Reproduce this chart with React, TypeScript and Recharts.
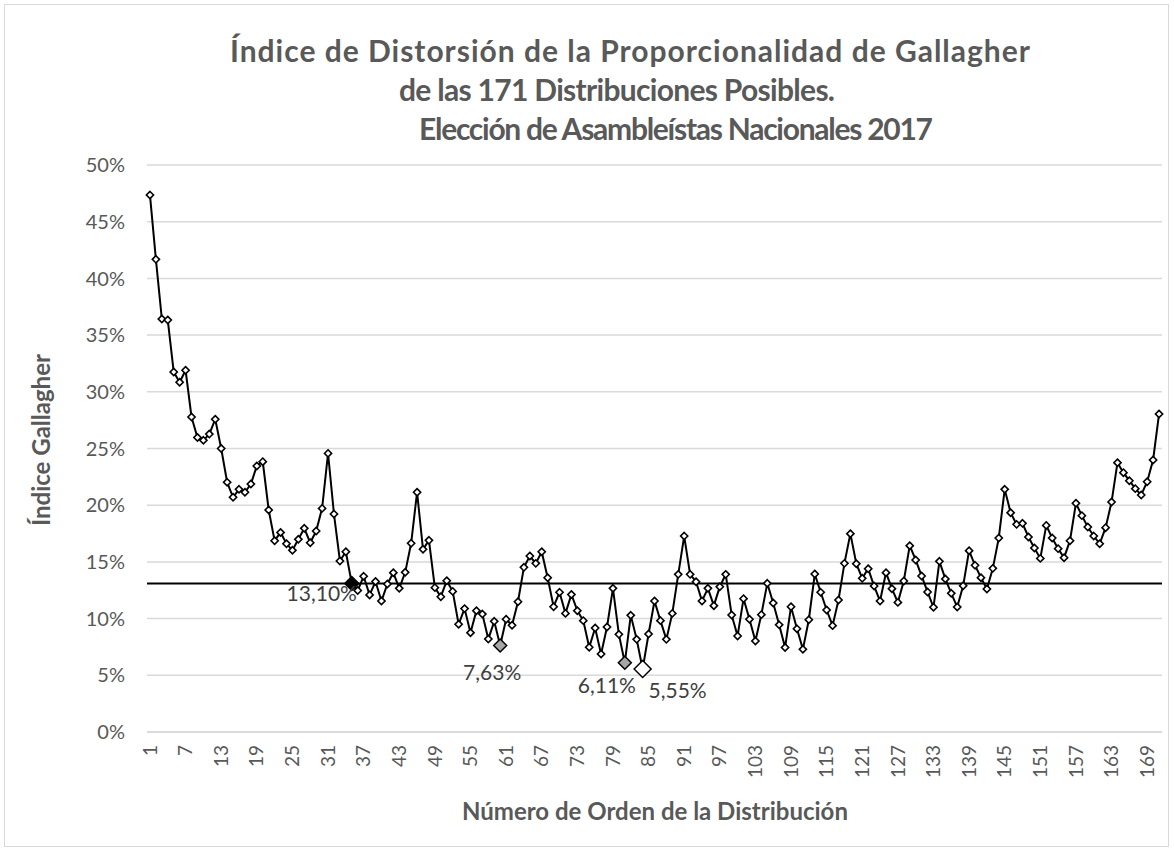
import { LineChart, Line, XAxis, YAxis, CartesianGrid, ReferenceLine } from 'recharts';

// Índice de Gallagher (%) para cada una de las 171 distribuciones
const gallagher: number[] = [
  47.35, 41.68, 36.42, 36.33, 31.75, 30.84, 31.9, 27.78, 25.97, 25.72,
  26.27, 27.58, 25.0, 22.02, 20.7, 21.4, 21.14, 21.87, 23.46, 23.84,
  19.58, 16.87, 17.6, 16.6, 16.02, 16.99, 17.96, 16.69, 17.72, 19.72,
  24.57, 19.22, 15.08, 15.9, 13.1, 12.48, 13.73, 12.09, 13.27, 11.55,
  13.05, 14.05, 12.67, 14.08, 16.64, 21.14, 16.11, 16.9, 12.73, 11.93,
  13.34, 12.4, 9.5, 10.88, 8.76, 10.7, 10.4, 8.2, 9.76, 7.63,
  9.94, 9.41, 11.49, 14.52, 15.52, 14.87, 15.9, 13.6, 11.05, 12.32,
  10.46, 12.13, 10.7, 9.82, 7.47, 9.17, 6.88, 9.26, 12.67, 8.61,
  6.11, 10.29, 8.17, 5.55, 8.64, 11.55, 9.82, 8.17, 10.46, 13.9,
  17.28, 13.9, 13.25, 11.55, 12.67, 11.14, 12.81, 13.9, 10.32, 8.47,
  11.76, 9.94, 8.02, 10.35, 13.11, 11.38, 9.45, 7.45, 11.05, 9.1,
  7.29, 9.9, 13.93, 12.32, 10.76, 9.38, 11.64, 14.87, 17.49, 14.84,
  13.55, 14.4, 12.87, 11.55, 14.05, 12.64, 11.43, 13.32, 16.43, 15.17,
  13.76, 12.35, 11.0, 15.05, 13.5, 12.23, 11.02, 12.9, 15.99, 14.7,
  13.61, 12.61, 14.43, 17.11, 21.4, 19.34, 18.31, 18.4, 17.2, 16.23,
  15.31, 18.22, 17.11, 16.17, 15.37, 16.87, 20.17, 19.08, 18.08, 17.28,
  16.6, 18.02, 20.28, 23.75, 22.87, 22.16, 21.46, 20.9, 22.07, 23.99,
  28.04,
];

const orden: number[] = gallagher.map((_, i) => i + 1);

const yTicks = [0, 5, 10, 15, 20, 25, 30, 35, 40, 45, 50];

const promedio = 13.1;

// distribuciones destacadas
const destacados = [35, 60, 81, 84];
const destacadosTexto = ['13,10%', '7,63%', '6,11%', '5,55%'];

const titulo = [
  'Índice de Distorsión de la Proporcionalidad de Gallagher',
  'de las 171 Distribuciones Posibles.',
  'Elección de Asambleístas Nacionales 2017',
];

const data = orden.map((n, i) => ({ n, g: gallagher[i] }));

const gray = '#595959';

const markStyle: Record<number, { fill: string; r: number; dx: number; dy: number }> = {
  35: { fill: '#000000', r: 7, dx: -30, dy: 18 },
  60: { fill: '#a6a6a6', r: 6.5, dx: -8, dy: 35 },
  81: { fill: '#a6a6a6', r: 6.5, dx: -18, dy: 30 },
  84: { fill: '#ffffff', r: 8.5, dx: 35, dy: 29 },
};

// posición y ancho de cada línea del título
const titleLayout = [
  { x: 630, y: 50, w: 800 },
  { x: 617, y: 89, w: 436 },
  { x: 676, y: 128, w: 514 },
];

const diamond = (cx: number, cy: number, r: number) =>
  `M${cx},${cy - r}L${cx + r},${cy}L${cx},${cy + r}L${cx - r},${cy}Z`;

const renderDot = (props: any) => {
  const { cx, cy, index, payload } = props;
  const k = destacados.indexOf(payload.n);
  if (k >= 0) {
    const s = markStyle[payload.n];
    return (
      <g key={`d${index}`}>
        <path d={diamond(cx, cy, s.r)} fill={s.fill} stroke="#000" strokeWidth={1.5} />
        <text x={cx + s.dx} y={cy + s.dy} textAnchor="middle" fontSize={21} fill="#404040">
          {destacadosTexto[k]}
        </text>
      </g>
    );
  }
  return <path key={`d${index}`} d={diamond(cx, cy, 3.6)} fill="#fff" stroke="#000" strokeWidth={1.6} />;
};

const XTick = (props: any) => {
  const { x, y, payload } = props;
  return (
    <text x={x} y={y} transform={`rotate(-90, ${x}, ${y})`} textAnchor="end" dy="0.35em" fontSize={19} fill={gray}>
      {payload.value}
    </text>
  );
};

export default function App() {
  return (
    <div style={{ position: 'absolute', left: 0, top: 0, width: 1174, height: 852, background: '#fff', fontFamily: 'Lato, sans-serif' }}>
      <div style={{ position: 'absolute', left: 4, top: 4, width: 1163, height: 841, border: '1.5px solid #d9d9d9' }} />
      <LineChart width={1174} height={852} data={data} margin={{ top: 165, right: 12, bottom: 90, left: 0 }}>
        <CartesianGrid vertical={false} stroke="#d9d9d9" strokeWidth={1.5} />
        <XAxis
          dataKey="n"
          height={30}
          interval={5}
          padding={{ left: 2.97, right: 2.97 }}
          axisLine={{ stroke: '#d9d9d9', strokeWidth: 1.5 }}
          tickLine={false}
          tickSize={0}
          tickMargin={13}
          tick={<XTick />}
        />
        <YAxis
          width={147}
          domain={[0, 50]}
          ticks={yTicks}
          tickFormatter={(v: number) => `${v}%`}
          axisLine={false}
          tickLine={false}
          tickSize={0}
          tickMargin={22}
          tick={{ fontSize: 20, fill: gray }}
        />
        <ReferenceLine y={promedio} stroke="#000" strokeWidth={2} />
        <Line
          dataKey="g"
          stroke="#000"
          strokeWidth={2}
          dot={renderDot}
          activeDot={false}
          isAnimationActive={false}
        />
      </LineChart>
      <svg width={1174} height={852} style={{ position: 'absolute', left: 0, top: 0, pointerEvents: 'none' }}>
        <g fontWeight="bold" fill={gray} fontSize={30} textAnchor="middle" dominantBaseline="central">
          {titulo.map((t, i) => (
            <text key={i} x={titleLayout[i].x} y={titleLayout[i].y} textLength={titleLayout[i].w} lengthAdjust="spacing">
              {t}
            </text>
          ))}
        </g>
        <text x={40} y={440} transform="rotate(-90, 40, 440)" textAnchor="middle" dominantBaseline="central" fontWeight="bold" fontSize={24} fill={gray}>
          Índice Gallagher
        </text>
        <text x={655} y={810} textAnchor="middle" dominantBaseline="central" fontWeight="bold" fontSize={24} fill={gray}>
          Número de Orden de la Distribución
        </text>
      </svg>
    </div>
  );
}
